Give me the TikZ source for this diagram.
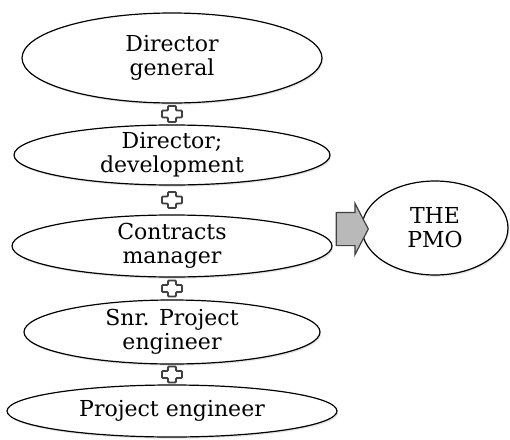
\documentclass[tikz,border=0pt]{standalone}
\usepackage{fontspec}
\setmainfont{DejaVu Serif}
\usetikzlibrary{shapes.geometric}
\usetikzlibrary{shapes.arrows}
\usetikzlibrary{shadows}
\tikzset{
	rolestyle/.style={ellipse,draw=black,fill=white,line width=0.6pt,align=center,inner xsep=0pt,inner ysep=-4pt,drop shadow={opacity=0.2,shadow xshift=0.6pt,shadow yshift=-0.9pt}},
	arrowstyle/.style={single arrow,draw=black!75,fill=gray!55,line width=0.6pt,inner xsep=0pt,inner ysep=8pt,minimum height=16pt,minimum width=25pt,single arrow head extend=4.5pt,single arrow tip angle=125},
	plusstyle/.pic={\draw[fill=white,draw=black!75,line width=0.9pt,rounded corners=0.5pt] (-4,-8)--(4,-8)--(4,-3.5)--(10,-3.5)--(10,3.5)--(4,3.5)--(4,8)--(-4,8)--(-4,3.5)--(-10,3.5)--(-10,-3.5)--(-4,-3.5)--cycle;}
}

\begin{document}
\begin{tikzpicture}[x=0.5pt,y=-0.5pt]
	\fontsize{11}{12}\selectfont
	\useasboundingbox (0,0) rectangle (510,440);
	\node[rolestyle,minimum width=150pt,minimum height=45pt] (dg) at (172,58) {Director\\general};
	\node[rolestyle,minimum width=158pt,minimum height=30pt] (dd) at (172,155) {Director;\\development};
	\node[rolestyle,minimum width=160pt,minimum height=31pt] (cm) at (172,246) {Contracts\\manager};
	\node[rolestyle,minimum width=148pt,minimum height=32pt] (spe) at (172,332) {Snr. Project\\engineer};
	\node[rolestyle,minimum width=165pt,minimum height=26pt] (pe) at (172,411) {Project engineer};
	\node[rolestyle,minimum width=73pt,minimum height=47pt] (pmo) at (435,228) {THE\\PMO};
	\node[arrowstyle] (arr) at (348,229) {};
	\path (dg.south) -- (dd.north) pic[midway] {plusstyle};
	\path (dd.south) -- (cm.north) pic[midway] {plusstyle};
	\path (cm.south) -- (spe.north) pic[midway] {plusstyle};
	\path (spe.south) -- (pe.north) pic[midway] {plusstyle};
\end{tikzpicture}
\end{document}
